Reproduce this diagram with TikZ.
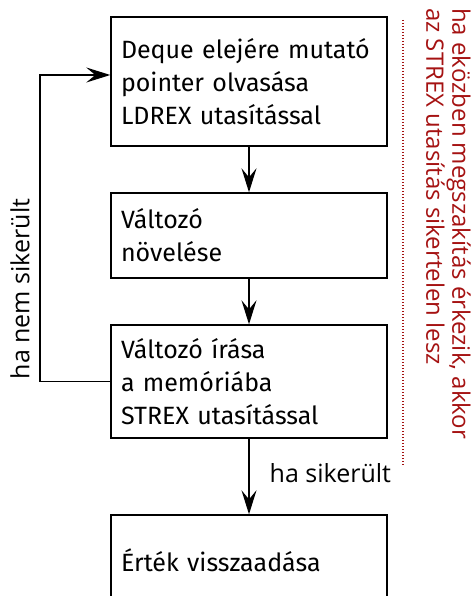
\documentclass[tikz,border=0pt]{standalone}
\usepackage{fontspec}
\setmainfont{Fira Sans}
\newfontfamily\labelfont{Open Sans}
\usetikzlibrary{arrows.meta}
\definecolor{noteRed}{RGB}{165,18,18}
\tikzset{
  stepbox/.style={draw=black, line width=1.4pt, minimum width=276pt, text width=256pt,
    align=left, inner xsep=10pt, inner ysep=0pt, font=\fontsize{25}{33}\selectfont, anchor=center},
  flow/.style={line width=1.4pt, -{Stealth[length=24pt,width=15pt,inset=9pt]}},
  lbl/.style={font=\labelfont\fontsize{25}{27}\selectfont, inner sep=0pt},
}
\begin{document}
\begin{tikzpicture}[x=1pt,y=-1pt]
\useasboundingbox (0,0) rectangle (474,596);
\node[stepbox, minimum height=129pt] (b1) at (249,81.5) {Deque elejére mutató\\pointer olvasása\\LDREX utasítással};
\node[stepbox, minimum height=85pt] (b2) at (249,235.5) {Változó\\növelése};
\node[stepbox, minimum height=113pt] (b3) at (249,381.5) {Változó írása\\a memóriába\\STREX utasítással};
\node[stepbox, minimum height=90pt] (b4) at (249,560) {Érték visszaadása};
\coordinate (lb) at (40,381.5);
\coordinate (lt) at (40,75);
\draw[flow] (b1) -- (b2);
\draw[flow] (b2) -- (b3);
\draw[flow] (b3) -- node[lbl, right=20pt, pos=0.45] (ok) {ha sikerült} (b4);
\draw[flow] (b3.west) -- (lb) -- (lt) -- (b1.west |- lt);
\node[lbl, rotate=90] (nok) at (20,289) {ha nem sikerült};
\draw[noteRed, line width=1.1pt, dash pattern=on 1pt off 2pt] (403,20) coordinate (d1) -- (403,465) coordinate (d2);
\node[lbl, rotate=-90, text=noteRed, align=left, anchor=north west, font=\labelfont\fontsize{24}{26}\selectfont] (note) at (471,8) {ha eközben megszakítás érkezik, akkor\\az STREX utasítás sikertelen lesz};
\end{tikzpicture}
\end{document}
